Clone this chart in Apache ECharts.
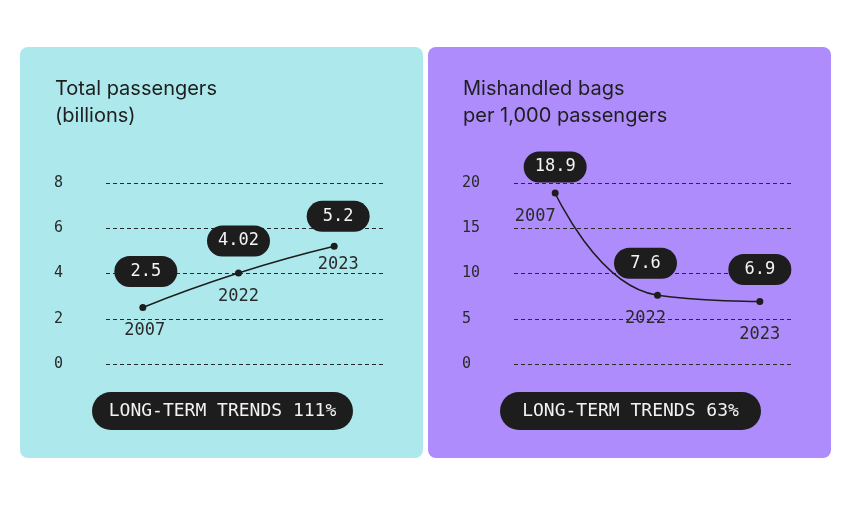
<!DOCTYPE html>
<html><head><meta charset="utf-8">
<script src="https://cdn.jsdelivr.net/npm/echarts@6/dist/echarts.min.js"></script>
<style>html,body{margin:0;padding:0;background:#fff}#c{width:850px;height:531px}</style>
</head><body><div id="c"></div>
<script>
const years = ['2007', '2022', '2023'];
const passengers = [2.5, 4.02, 5.2];
const bags = [18.9, 7.6, 6.9];
const passengerTicks = [0, 8, 2];   // min, max, interval
const bagTicks = [0, 20, 5];
const titles = ['Total passengers\n(billions)', 'Mishandled bags\nper 1,000 passengers'];
const trends = ['LONG-TERM TRENDS 111%', 'LONG-TERM TRENDS 63%'];

const MONO = '"DejaVu Sans Mono", "Liberation Mono", monospace';
const SANS = 'Inter, "Noto Sans", sans-serif';
const panels = [
  {x: 20, bg: '#ade9ec', gridL: 106, gridR: 385, lineL: 95, lineR: 382, ticks: passengerTicks, data: passengers},
  {x: 428, bg: '#ae8cfb', gridL: 514, gridR: 791, lineL: 504, lineR: 811, ticks: bagTicks, data: bags}
];

const chart = echarts.init(document.getElementById('c'), null, {renderer: 'canvas'});
const graphic = [];
const grid = [], xAxis = [], yAxis = [], series = [], title = [];
// year label offsets per panel (design placement)
const yearOffsets = [
  [[2, 0], [0, 0], [4, -5]],
  [[-20, 0], [-12, 0], [0, 10]]
];
const pillOffsets = [
  [[3, -4], [0, 0], [4, 2]],
  [[0, 6], [-12, 0], [0, 0]]
];
panels.forEach((p, i) => {
  graphic.push({type: 'rect', z: -10, shape: {x: p.x, y: 47, width: 403, height: 411, r: 8}, style: {fill: p.bg}});
  graphic.push({type: 'group', left: p.x + 72, top: 392, children: [
    {type: 'rect', shape: {x: 0, y: 0, width: 261, height: 38, r: 19}, style: {fill: '#1d1d1d'}},
    {type: 'text', style: {x: 130.5, y: 19, text: trends[i], fill: '#f2f2f2', font: '18px ' + MONO, textAlign: 'center', textVerticalAlign: 'middle'}}
  ]});
  title.push({text: titles[i], left: p.x + 35, top: 75, padding: 0,
    textStyle: {fontFamily: SANS, fontSize: 20, fontWeight: 400, color: '#1e1e1e', lineHeight: 27}});
  // axis grid (tick labels + dashed gridlines)
  grid.push({left: p.gridL, width: p.gridR - p.gridL, top: 183, bottom: 531 - 364});
  xAxis.push({type: 'category', gridIndex: 2 * i, data: years, show: false});
  yAxis.push({type: 'value', gridIndex: 2 * i, min: p.ticks[0], max: p.ticks[1], interval: p.ticks[2],
    axisLine: {show: false}, axisTick: {show: false},
    axisLabel: {align: 'left', margin: 52, fontFamily: MONO, fontSize: 15, color: '#2a2a2a'},
    splitLine: {lineStyle: {type: [4, 3], color: '#2a2a2a', width: 1}}});
  // line grid (same vertical scale)
  grid.push({left: p.lineL, width: p.lineR - p.lineL, top: 183, bottom: 531 - 364});
  xAxis.push({type: 'category', gridIndex: 2 * i + 1, data: years, boundaryGap: true, show: false});
  yAxis.push({type: 'value', gridIndex: 2 * i + 1, min: p.ticks[0], max: p.ticks[1], interval: p.ticks[2], show: false, splitLine: {show: false}});
  series.push({
    type: 'line', xAxisIndex: 2 * i + 1, yAxisIndex: 2 * i + 1, smooth: 0.5,
    data: p.data.map((v, k) => ({value: v, label: {offset: pillOffsets[i][k]}})),
    symbol: 'circle', symbolSize: 7,
    itemStyle: {color: '#1d1d1d'}, lineStyle: {color: '#1d1d1d', width: 1.5},
    label: {show: true, position: 'top', distance: 13, formatter: d => String(d.value),
      backgroundColor: '#1d1d1d', color: '#f4f4f4', fontFamily: MONO, fontSize: 17,
      width: 40, align: 'center', padding: [7, 11.5], borderRadius: 16, lineHeight: 17},
    z: 3
  });
  series.push({
    type: 'line', xAxisIndex: 2 * i + 1, yAxisIndex: 2 * i + 1, smooth: 0.5, silent: true,
    data: p.data.map((v, k) => ({value: v, label: {offset: yearOffsets[i][k]}})),
    symbol: 'circle', symbolSize: 2, showSymbol: true,
    itemStyle: {color: 'rgba(0,0,0,0)'}, lineStyle: {opacity: 0},
    label: {show: true, position: 'bottom', distance: 14, formatter: d => d.name,
      fontFamily: MONO, fontSize: 17, color: '#2a2a2a'},
    z: 2
  });
});

chart.setOption({animation: false, backgroundColor: '#fff', title, graphic, grid, xAxis, yAxis, series});
</script></body></html>
